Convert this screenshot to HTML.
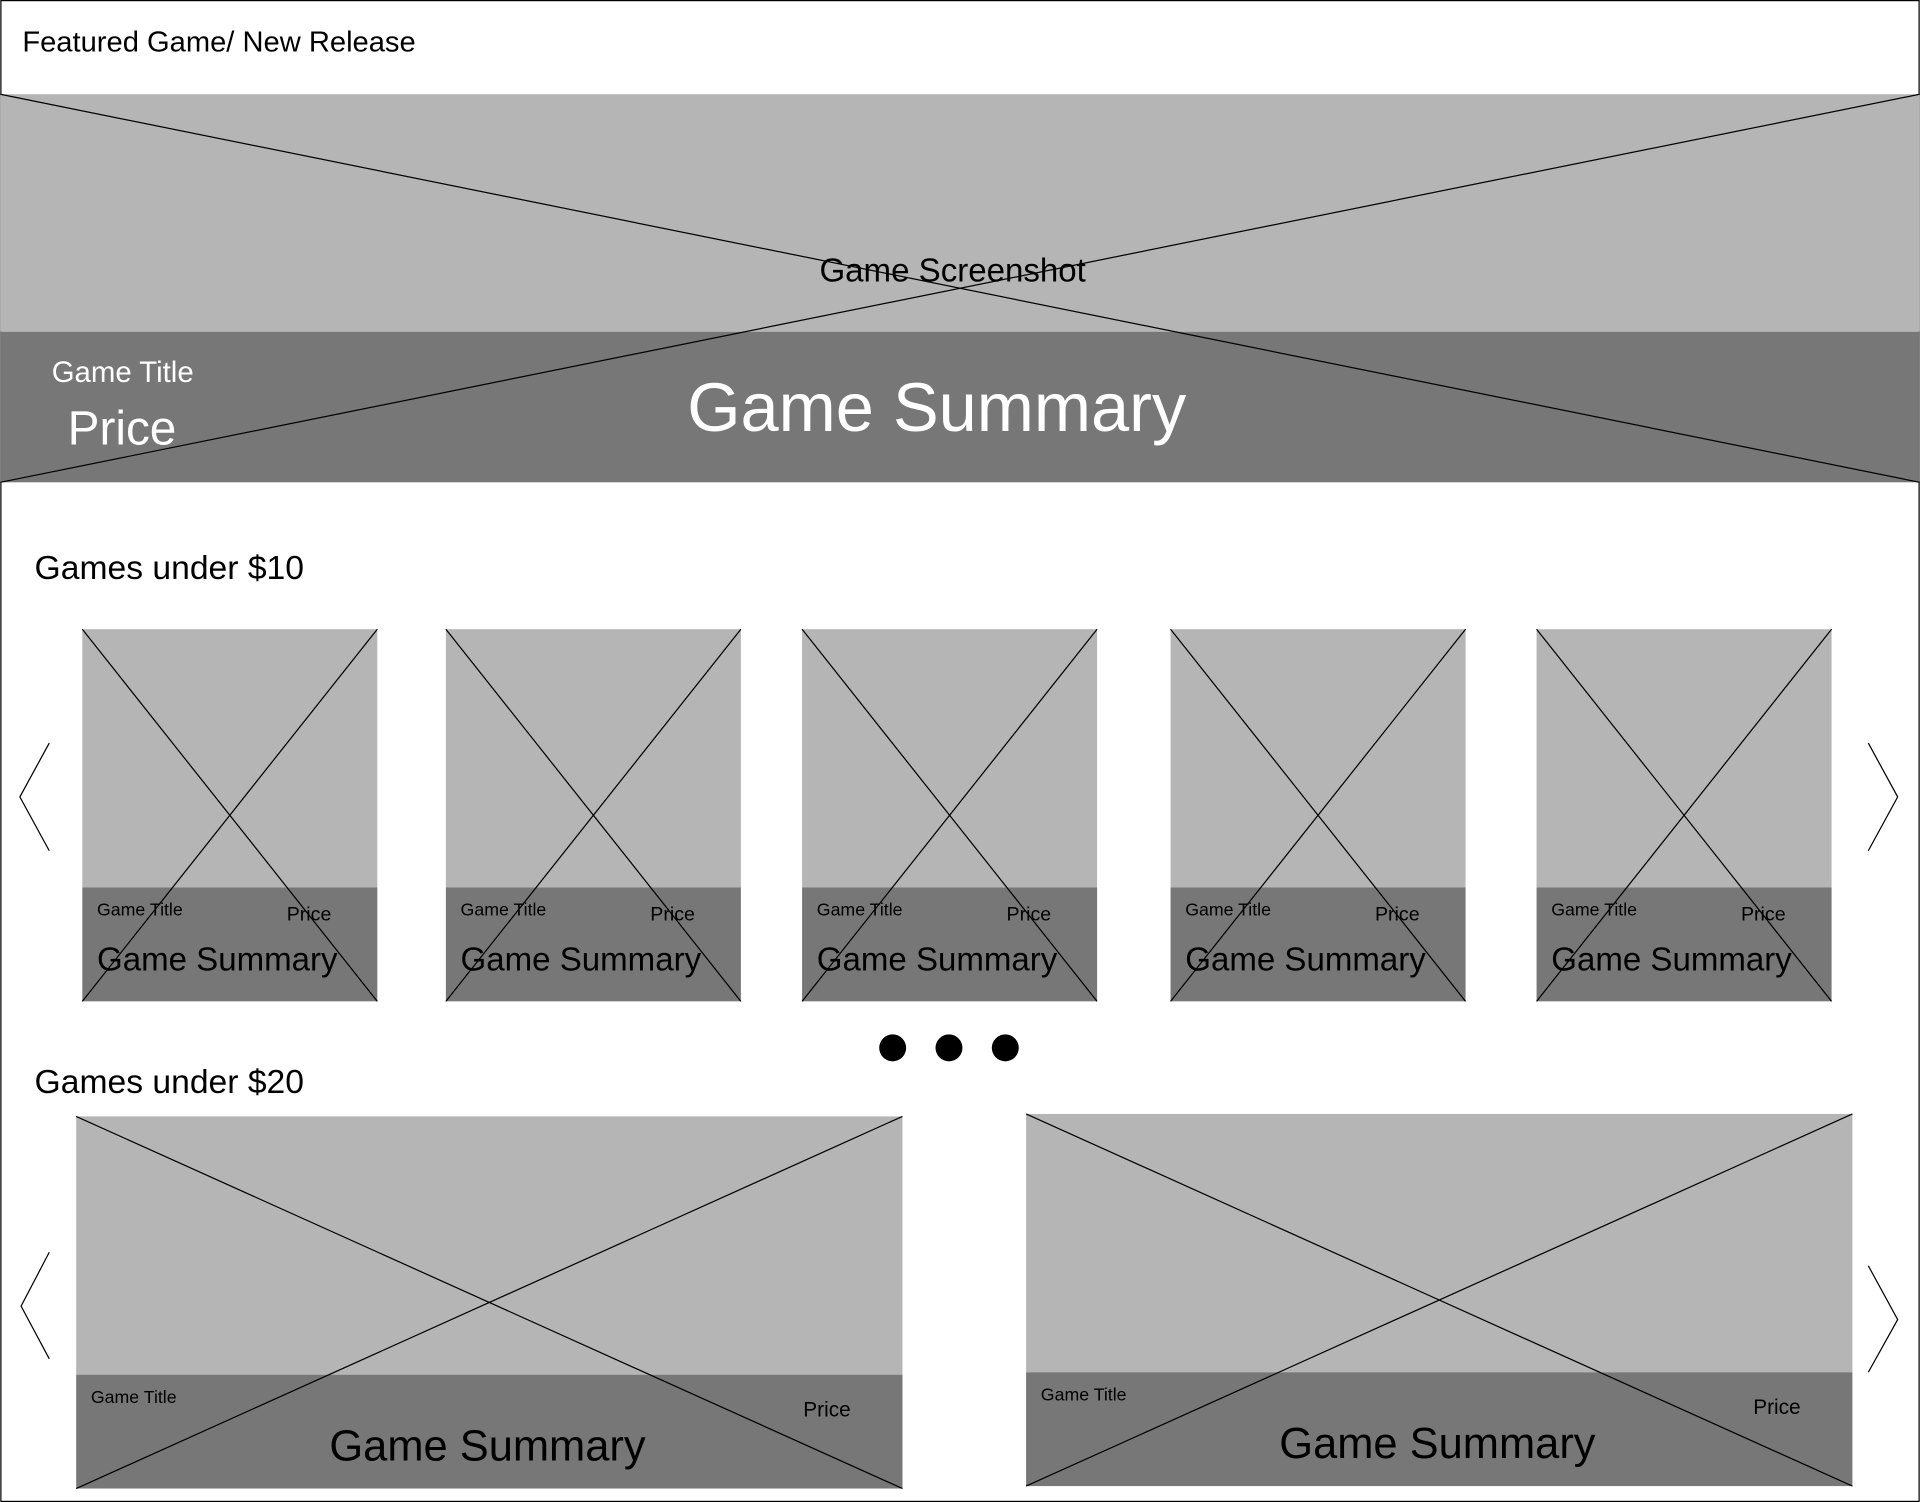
<!DOCTYPE html>
<html><head><meta charset="utf-8"><style>
html,body{margin:0;padding:0;background:#fff;}
svg{display:block;}
text{font-family:"Liberation Sans",sans-serif;}
</style></head><body>
<svg width="1920" height="1502" viewBox="0 0 1568 1227" xmlns="http://www.w3.org/2000/svg">
<rect x="0.5" y="0.5" width="1567" height="1226" fill="#fff" stroke="#000" stroke-width="1"/>
<text x="18" y="42" font-size="23.8" fill="#000">Featured Game/ New Release</text>
<rect x="0" y="77" width="1568" height="194" fill="#b5b5b5"/>
<rect x="0" y="271" width="1568" height="123" fill="#777"/>
<line x1="0" y1="77" x2="1568" y2="394" stroke="#000" stroke-width="1"/>
<line x1="1568" y1="77" x2="0" y2="394" stroke="#000" stroke-width="1"/>
<text x="778" y="230" font-size="27" text-anchor="middle" fill="#000">Game Screenshot</text>
<text x="42" y="312" font-size="24" fill="#fff">Game Title</text>
<text x="55" y="363" font-size="39" fill="#fff">Price</text>
<text x="765" y="352" font-size="56" text-anchor="middle" fill="#fff">Game Summary</text>
<text x="28" y="473" font-size="27.5" fill="#000">Games under $10</text>
<g stroke="#000" stroke-width="1" fill="none">
<polyline points="40,607 16,651 40,695"/>
<polyline points="1526,607 1550,651 1526,695"/>
<polyline points="40,1023 17,1067 40,1110"/>
<polyline points="1526,1034 1550,1078 1526,1121"/>
</g>
<g>
<g transform="translate(67,514)">
<rect width="241" height="211" fill="#b5b5b5"/><rect y="211" width="241" height="93" fill="#777"/>
<line x1="0" y1="0" x2="241" y2="304" stroke="#000"/><line x1="241" y1="0" x2="0" y2="304" stroke="#000"/>
<text x="12" y="234" font-size="14.5">Game Title</text><text x="167" y="238" font-size="16">Price</text>
<text x="12" y="279" font-size="27">Game Summary</text></g>
<g transform="translate(364,514)">
<rect width="241" height="211" fill="#b5b5b5"/><rect y="211" width="241" height="93" fill="#777"/>
<line x1="0" y1="0" x2="241" y2="304" stroke="#000"/><line x1="241" y1="0" x2="0" y2="304" stroke="#000"/>
<text x="12" y="234" font-size="14.5">Game Title</text><text x="167" y="238" font-size="16">Price</text>
<text x="12" y="279" font-size="27">Game Summary</text></g>
<g transform="translate(655,514)">
<rect width="241" height="211" fill="#b5b5b5"/><rect y="211" width="241" height="93" fill="#777"/>
<line x1="0" y1="0" x2="241" y2="304" stroke="#000"/><line x1="241" y1="0" x2="0" y2="304" stroke="#000"/>
<text x="12" y="234" font-size="14.5">Game Title</text><text x="167" y="238" font-size="16">Price</text>
<text x="12" y="279" font-size="27">Game Summary</text></g>
<g transform="translate(956,514)">
<rect width="241" height="211" fill="#b5b5b5"/><rect y="211" width="241" height="93" fill="#777"/>
<line x1="0" y1="0" x2="241" y2="304" stroke="#000"/><line x1="241" y1="0" x2="0" y2="304" stroke="#000"/>
<text x="12" y="234" font-size="14.5">Game Title</text><text x="167" y="238" font-size="16">Price</text>
<text x="12" y="279" font-size="27">Game Summary</text></g>
<g transform="translate(1255,514)">
<rect width="241" height="211" fill="#b5b5b5"/><rect y="211" width="241" height="93" fill="#777"/>
<line x1="0" y1="0" x2="241" y2="304" stroke="#000"/><line x1="241" y1="0" x2="0" y2="304" stroke="#000"/>
<text x="12" y="234" font-size="14.5">Game Title</text><text x="167" y="238" font-size="16">Price</text>
<text x="12" y="279" font-size="27">Game Summary</text></g>
</g>
<circle cx="729" cy="856" r="11" fill="#000"/>
<circle cx="775" cy="856" r="11" fill="#000"/>
<circle cx="821" cy="856" r="11" fill="#000"/>
<text x="28" y="893" font-size="27.5" fill="#000">Games under $20</text>
<g transform="translate(62,912)">
<rect width="675" height="211" fill="#b5b5b5"/><rect y="211" width="675" height="93" fill="#777"/>
<line x1="0" y1="0" x2="675" y2="304" stroke="#000"/><line x1="675" y1="0" x2="0" y2="304" stroke="#000"/>
<text x="12" y="234" font-size="14.5">Game Title</text><text x="594" y="245" font-size="17">Price</text>
<text x="336" y="281" font-size="35.5" text-anchor="middle">Game Summary</text></g>
<g transform="translate(838,910)">
<rect width="675" height="211" fill="#b5b5b5"/><rect y="211" width="675" height="93" fill="#777"/>
<line x1="0" y1="0" x2="675" y2="304" stroke="#000"/><line x1="675" y1="0" x2="0" y2="304" stroke="#000"/>
<text x="12" y="234" font-size="14.5">Game Title</text><text x="594" y="245" font-size="17">Price</text>
<text x="336" y="281" font-size="35.5" text-anchor="middle">Game Summary</text></g>
</svg>
</body></html>
